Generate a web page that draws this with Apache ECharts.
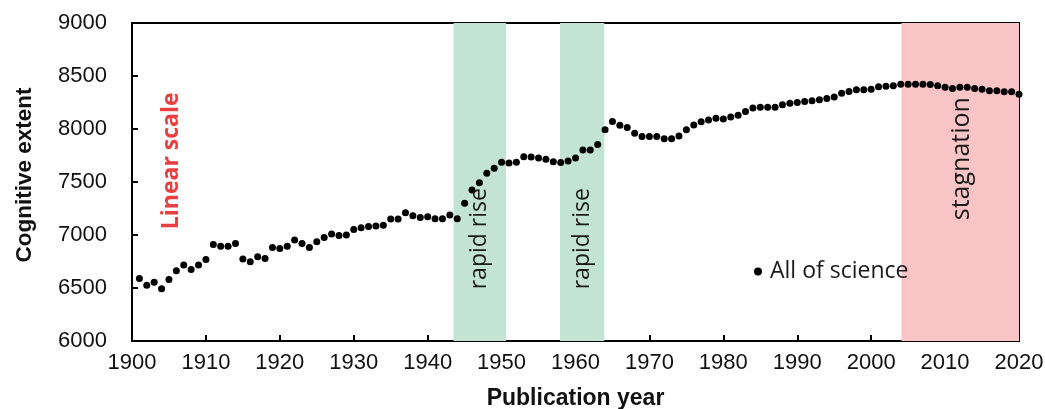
<!DOCTYPE html>
<html>
<head>
<meta charset="utf-8">
<style>
  html, body { margin: 0; padding: 0; background: #ffffff; }
  #chart { width: 1045px; height: 409px; }
</style>
<script src="https://cdn.jsdelivr.net/npm/echarts@6/dist/echarts.min.js"></script>
</head>
<body>
<div id="chart"></div>
<script>
// Publication years and the cognitive extent measured for each year
const years = [];
for (let y = 1901; y <= 2020; y++) years.push(y);

const extent = [
  6590, 6527, 6555, 6492, 6580, 6662, 6716, 6675, 6716, 6770,   // 1901-1910
  6911, 6895, 6895, 6920, 6773, 6747, 6795, 6779, 6883, 6873,   // 1911-1920
  6895, 6952, 6920, 6883, 6936, 6976, 7009, 6996, 6999, 7053,   // 1921-1930
  7069, 7081, 7084, 7091, 7151, 7151, 7210, 7182, 7166, 7173,   // 1931-1940
  7154, 7154, 7188, 7154, 7299, 7425, 7494, 7582, 7629, 7687,   // 1941-1950
  7680, 7686, 7739, 7737, 7727, 7715, 7692, 7683, 7699, 7727,   // 1951-1960
  7803, 7803, 7853, 7994, 8070, 8036, 8014, 7960, 7929, 7929,   // 1961-1970
  7929, 7907, 7907, 7933, 7992, 8038, 8068, 8086, 8102, 8095,   // 1971-1980
  8114, 8130, 8164, 8197, 8206, 8206, 8206, 8228, 8244, 8250,   // 1981-1990
  8259, 8266, 8275, 8287, 8301, 8338, 8353, 8370, 8370, 8376,   // 1991-2000
  8398, 8404, 8407, 8423, 8423, 8423, 8423, 8420, 8407, 8395,   // 2001-2010
  8382, 8395, 8395, 8382, 8376, 8360, 8360, 8351, 8351, 8329    // 2011-2020
];

// Highlighted periods [start year, end year]
const riseBands = [[1943.5, 1950.6], [1957.9, 1963.9]];
const stagnationBand = [2004.1, 2020];

// Axis ticks
const xTicks = { min: 1900, max: 2020, step: 10 };
const yTicks = { min: 6000, max: 9000, step: 500 };

// Rotated annotations placed in data coordinates
const riseNotes = [
  { text: 'rapid rise', x: 1947.05, y: 6965 },
  { text: 'rapid rise', x: 1960.9, y: 6965 }
];
const stagnationNote = { text: 'stagnation', x: 2012.3, y: 7720 };
const scaleNote = { text: 'Linear scale', x: 1905.3, y: 7700 };

const points = years.map((yr, i) => [yr, extent[i]]);

const chart = echarts.init(document.getElementById('chart'), null, { renderer: 'canvas' });

const bandAreas = riseBands.map(b => [
  { xAxis: b[0], itemStyle: { color: '#c3e3d4' } },
  { xAxis: b[1] }
]).concat([[
  { xAxis: stagnationBand[0], itemStyle: { color: '#f8c4c6' } },
  { xAxis: stagnationBand[1] }
]]);

// Text-only series: invisible symbols carrying a rotated label
function noteSeries(name, notes, fontSize, color, weight) {
  return {
    name: name,
    type: 'scatter',
    symbolSize: 0,
    silent: true,
    z: 6,
    itemStyle: { opacity: 1 },
    emphasis: { disabled: true },
    data: notes.map(n => ({ value: [n.x, n.y], name: n.text })),
    label: {
      show: true, position: 'inside', rotate: 90,
      formatter: p => p.name,
      fontFamily: 'Open Sans', fontWeight: weight, fontSize: fontSize, color: color
    }
  };
}

const tickLabel = { fontFamily: 'Liberation Sans', fontSize: 22, color: '#111' };

chart.setOption({
  animation: false,
  backgroundColor: '#ffffff',
  grid: {
    left: 132, right: 26, top: 23, bottom: 68,
    outerBoundsMode: 'none',
    containLabel: false,
    show: true, borderColor: '#000000', borderWidth: 2, backgroundColor: 'transparent'
  },
  legend: {
    left: 749, top: 255,
    itemWidth: 14, itemHeight: 8,
    textStyle: { fontFamily: 'Open Sans', fontSize: 23, color: '#1a1a1a' },
    data: [{ name: 'All of science', icon: 'circle' }]
  },
  xAxis: {
    type: 'value',
    min: xTicks.min, max: xTicks.max, interval: xTicks.step,
    name: 'Publication year', nameLocation: 'middle', nameGap: 46,
    nameTextStyle: { fontFamily: 'Liberation Sans', fontWeight: 'bold', fontSize: 23, color: '#111' },
    axisLine: { show: true, lineStyle: { color: '#000', width: 2 } },
    axisTick: { show: true, inside: true, length: 6, lineStyle: { color: '#000', width: 2 } },
    axisLabel: Object.assign({ margin: 11, formatter: v => String(v) }, tickLabel),
    splitLine: { show: false }
  },
  yAxis: {
    type: 'value',
    min: yTicks.min, max: yTicks.max, interval: yTicks.step,
    name: 'Cognitive extent', nameLocation: 'middle', nameGap: 96,
    nameTextStyle: {
      fontFamily: 'Liberation Sans', fontWeight: 'bold', fontSize: 22.5, color: '#111',
      padding: [0, 0, 0, 14]
    },
    axisLine: { show: true, lineStyle: { color: '#000', width: 2 } },
    axisTick: { show: true, inside: true, length: 6, lineStyle: { color: '#000', width: 2 } },
    axisLabel: Object.assign({ margin: 25, formatter: v => String(v) }, tickLabel),
    splitLine: { show: false }
  },
  series: [
    {
      name: 'All of science',
      type: 'scatter',
      symbol: 'circle',
      symbolSize: 7,
      itemStyle: { color: '#000000', opacity: 1 },
      emphasis: { disabled: true },
      data: points,
      z: 5,
      markArea: {
        silent: true,
        z: 1,
        itemStyle: { borderWidth: 0, opacity: 1 },
        label: { show: false },
        data: bandAreas
      }
    },
    noteSeries('rise', riseNotes, 23, '#1a1a1a', 'normal'),
    noteSeries('stagnation', [stagnationNote], 25, '#1a1a1a', 'normal'),
    noteSeries('scale', [scaleNote], 23, '#e8403e', 'bold')
  ]
});
</script>
</body>
</html>
